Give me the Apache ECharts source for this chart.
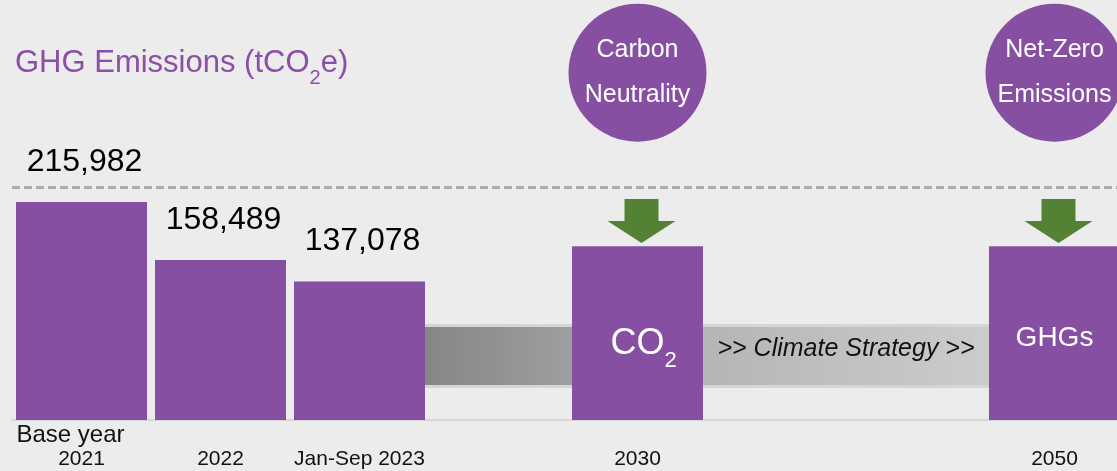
<!DOCTYPE html>
<html>
<head>
<meta charset="utf-8">
<script src="https://cdn.jsdelivr.net/npm/echarts@6/dist/echarts.min.js"></script>
<style>
  html, body { margin: 0; padding: 0; background: #ececec; }
  #chart { width: 1117px; height: 471px; }
</style>
</head>
<body>
<div id="chart"></div>
<script>
// Tick labels along the timeline (blank slots keep the spacing between milestones)
const tickLabels = ['Base year\n2021', '2022', 'Jan-Sep 2023', '', '2030', '', '', '2050'];
// Reported GHG emissions, tCO2e
const emissions = [215982, 158489, 137078, null, null, null, null, null];
// Target bars for the milestone years
const targetLevels = [null, null, null, null, 172000, null, null, 172000];
const targetNames = ['', '', '', '', 'CO2', '', '', 'GHGs'];
// Milestone badges and arrows
const milestoneLevels = [null, null, null, null, 344000, null, null, 344000];
const milestoneNames = ['', '', '', '', 'Carbon\nNeutrality', '', '', 'Net-Zero\nEmissions'];
const arrowLevels = [null, null, null, null, 197000, null, null, 197000];
// Base-year reference line
const baseLineLevel = 231000;
// Pathway bands: [from slot, to slot, low, high]
const bands = [[2, 4, 34700, 92100], [4, 7, 34700, 92100]];
const bandTexts = ['', '>> Climate Strategy >>'];
const titleText = 'GHG Emissions (tCO2e)';

const PURPLE = '#864fa2';
const FONT = '"Liberation Sans", Arial, Helvetica, sans-serif';
const BAR_W = 131;

// wrap digits in a chemical formula as subscripts for rich text
function chem(s, main, sub) {
  return s.split(/(\d)/).filter(p => p !== '').map(p =>
    /^\d$/.test(p) ? '{' + sub + '|' + p + '}' : '{' + main + '|' + p + '}'
  ).join('');
}

const chart = echarts.init(document.getElementById('chart'), null, { renderer: 'canvas' });

const targetData = targetLevels.map((v, i) => {
  if (v == null) return null;
  const name = targetNames[i];
  const hasSub = /\d/.test(name);
  return {
    value: v,
    label: {
      show: true,
      position: 'inside',
      offset: hasSub ? [6, 11] : [0, 5],
      formatter: hasSub ? chem(name, 'cm', 'cs') : '{g|' + name + '}',
      rich: {
        cm: { fontFamily: FONT, fontSize: 36, lineHeight: 36, color: '#fff', verticalAlign: 'top' },
        cs: { fontFamily: FONT, fontSize: 22, lineHeight: 22, color: '#fff', verticalAlign: 'top', padding: [24, 0, 0, 0] },
        g: { fontFamily: FONT, fontSize: 28, lineHeight: 28, color: '#fff' }
      }
    }
  };
});

const badgeData = milestoneLevels.map((v, i) => v == null ? null : { value: v, name: milestoneNames[i] });

const option = {
  backgroundColor: '#ececec',
  animation: false,
  title: {
    left: 10,
    top: 43,
    text: chem(titleText, 'tm', 'ts'),
    textStyle: {
      fontWeight: 'normal',
      rich: {
        tm: { fontFamily: FONT, fontWeight: 'normal', fontSize: 31, lineHeight: 31, color: '#8a4fa6', verticalAlign: 'top' },
        ts: { fontFamily: FONT, fontWeight: 'normal', fontSize: 20, lineHeight: 20, color: '#8a4fa6', verticalAlign: 'top', padding: [20, 0, 0, 0] }
      }
    }
  },
  grid: { left: 12, right: -7, top: 0, bottom: 51, outerBoundsMode: 'none' },
  xAxis: {
    type: 'category',
    data: tickLabels,
    axisTick: { show: false },
    axisLine: { lineStyle: { color: '#d6d6d6', width: 2 } },
    axisLabel: {
      interval: 0,
      margin: 3,
      fontFamily: FONT,
      fontSize: 21,
      lineHeight: 24,
      color: '#111',
      formatter: function (v) {
        const parts = v.split('\n');
        if (parts.length > 1) return '{note|' + parts[0] + '}\n{yr|' + parts[1] + '}';
        return v ? ' \n{yr|' + v + '}' : '';
      },
      rich: {
        note: { fontFamily: FONT, fontSize: 24, lineHeight: 24, color: '#111', padding: [0, 22, 0, 0] },
        yr: { fontFamily: FONT, fontSize: 21, lineHeight: 25, color: '#111' }
      }
    }
  },
  yAxis: { type: 'value', min: 0, max: 416000, show: false },
  series: [
    {
      type: 'custom',
      z: 1,
      silent: true,
      encode: { x: [0, 1], y: [2, 3] },
      data: bands,
      renderItem: function (params, api) {
        const from = api.value(0), to = api.value(1);
        const x0 = api.coord([from, 0])[0] + BAR_W / 2;
        const x1 = api.coord([to, 0])[0] - BAR_W / 2;
        const yTop = api.coord([from, api.value(3)])[1];
        const yBot = api.coord([from, api.value(2)])[1];
        const shade = params.dataIndex === 0 ? ['#858786', '#9d9fa0'] : ['#b4b5b6', '#cbcccd'];
        const children = [
          { type: 'rect', shape: { x: x0, y: yTop - 3, width: x1 - x0, height: yBot - yTop + 6 }, style: { fill: '#d5d5d5' } },
          { type: 'rect', shape: { x: x0, y: yTop, width: x1 - x0, height: yBot - yTop },
            style: { fill: new echarts.graphic.LinearGradient(0, 0, 1, 0, [
              { offset: 0, color: shade[0] }, { offset: 1, color: shade[1] }]) } }
        ];
        const t = bandTexts[params.dataIndex];
        if (t) {
          children.push({
            type: 'text', x: (x0 + x1) / 2, y: (yTop + yBot) / 2 - 7,
            style: { text: t, fill: '#111', font: 'italic 25px ' + FONT, align: 'center', verticalAlign: 'middle' }
          });
        }
        return { type: 'group', children: children };
      }
    },
    {
      name: 'Emissions',
      type: 'bar',
      z: 2,
      barWidth: BAR_W,
      barGap: '-100%',
      data: emissions,
      itemStyle: { color: PURPLE },
      emphasis: { disabled: true },
      label: {
        show: true,
        position: 'top',
        distance: 24,
        offset: [3, 0],
        fontFamily: FONT,
        fontSize: 32,
        color: '#000',
        formatter: p => p.value.toLocaleString('en-US')
      },
      markLine: {
        silent: true,
        symbol: ['none', 'none'],
        label: { show: false },
        lineStyle: { color: '#ababab', type: [8, 4], width: 3 },
        data: [{ yAxis: baseLineLevel }]
      }
    },
    {
      name: 'Targets',
      type: 'bar',
      z: 2,
      barWidth: BAR_W,
      barGap: '-100%',
      data: targetData,
      itemStyle: { color: PURPLE },
      emphasis: { disabled: true }
    },
    {
      name: 'Reduction',
      type: 'scatter',
      z: 3,
      silent: true,
      symbol: 'path://M17,0 L51,0 L51,22 L68,22 L34,44 L0,22 L17,22 Z',
      symbolSize: [68, 44],
      symbolOffset: [4, 0],
      itemStyle: { color: '#548235', opacity: 1 },
      data: arrowLevels
    },
    {
      name: 'Milestones',
      type: 'scatter',
      z: 3,
      silent: true,
      symbol: 'circle',
      symbolSize: 138,
      itemStyle: { color: PURPLE, opacity: 1 },
      label: {
        show: true,
        position: 'inside',
        formatter: p => p.name,
        fontFamily: FONT,
        fontSize: 25,
        lineHeight: 45,
        color: '#fff'
      },
      data: badgeData
    }
  ]
};

chart.setOption(option);
</script>
</body>
</html>
